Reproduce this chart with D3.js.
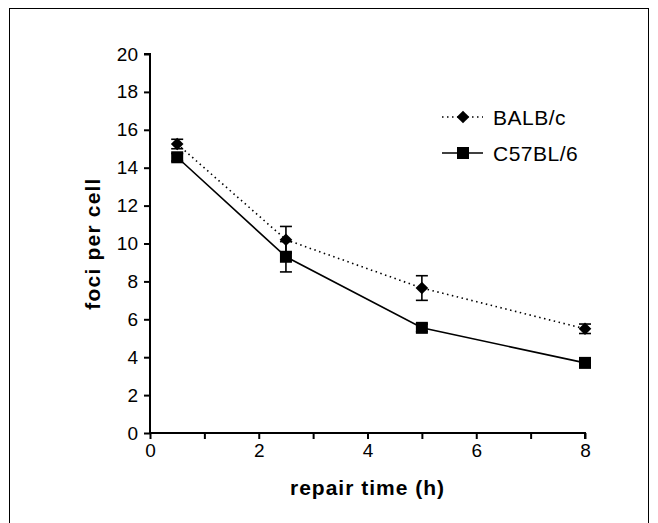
<!DOCTYPE html>
<html>
<head>
<meta charset="utf-8">
<script src="https://cdn.jsdelivr.net/npm/d3@7"></script>
<style>
  body { margin: 0; background: #fff; }
  svg { display: block; font-family: "Liberation Sans", Arial, sans-serif; }
</style>
</head>
<body>
<div id="chart"></div>
<script>
// repair time (h)
const times = [0.5, 2.5, 5, 8];
// foci per cell
const balbValues = [15.25, 10.2, 7.65, 5.5];
const balbErrors = [0.25, 0.7, 0.65, 0.25];
const c57Values = [14.55, 9.3, 5.55, 3.7];
const c57Errors = [0.2, 0.8, 0.2, 0.15];
const xTicks = [0, 1, 2, 3, 4, 5, 6, 7, 8];
const xLabels = [0, 2, 4, 6, 8];
const yTicks = [0, 2, 4, 6, 8, 10, 12, 14, 16, 18, 20];

// diamond = square turned 45deg
const diamond = {
  draw(ctx, size) {
    const r = Math.sqrt(size / 2);
    ctx.moveTo(0, -r); ctx.lineTo(r, 0); ctx.lineTo(0, r); ctx.lineTo(-r, 0); ctx.closePath();
  }
};

const seriesList = [
  { name: "BALB/c", values: balbValues, errors: balbErrors, symbol: diamond, size: 80, dash: "1.5,3.5" },
  { name: "C57BL/6", values: c57Values, errors: c57Errors, symbol: d3.symbolSquare, size: 144, dash: null }
];

const W = 658, H = 523;
const margin = { top: 54, right: 73, bottom: 90, left: 150 };
const width = W - margin.left - margin.right;
const height = H - margin.top - margin.bottom;

const svg = d3.select("#chart").append("svg")
  .attr("width", W)
  .attr("height", H);

// outer frame
svg.append("rect")
  .attr("x", 9.5).attr("y", 8.5)
  .attr("width", 639).attr("height", 530)
  .attr("fill", "none")
  .attr("stroke", "#000")
  .attr("stroke-width", 1);

const g = svg.append("g")
  .attr("transform", `translate(${margin.left},${margin.top})`);

const x = d3.scaleLinear().domain([0, 8]).range([0, width]);
const y = d3.scaleLinear().domain([0, 20]).range([height, 0]);

// x axis
const xAxis = g.append("g")
  .attr("transform", `translate(0,${height})`)
  .call(d3.axisBottom(x).tickValues(xTicks).tickSize(6).tickPadding(5)
    .tickFormat(d => xLabels.includes(d) ? d : ""));
xAxis.select(".domain").attr("stroke-width", 2).attr("d", `M0,0H${width}V6`);
xAxis.selectAll("line").attr("stroke-width", 2);
xAxis.selectAll("text").style("font-size", "19px").attr("fill", "#000");

// y axis
const yAxis = g.append("g")
  .call(d3.axisLeft(y).tickValues(yTicks).tickSize(6).tickPadding(6));
yAxis.select(".domain").attr("stroke-width", 2).attr("d", `M-6,0H0V${height}`);
yAxis.selectAll("line").attr("stroke-width", 2);
yAxis.selectAll("text").style("font-size", "19px").attr("fill", "#000");

// axis titles
g.append("text")
  .attr("x", width / 2)
  .attr("y", height + 62)
  .attr("text-anchor", "middle")
  .style("font-size", "21px")
  .style("font-weight", "bold")
  .style("letter-spacing", "1px")
  .text("repair time (h)");

g.append("text")
  .attr("transform", `translate(-50,${height / 2}) rotate(-90)`)
  .attr("text-anchor", "middle")
  .style("font-size", "21px")
  .style("font-weight", "bold")
  .style("letter-spacing", "1.2px")
  .text("foci per cell");

const line = d3.line()
  .x((d, i) => x(times[i]))
  .y(d => y(d));

seriesList.forEach(s => {
  g.append("path")
    .datum(s.values)
    .attr("fill", "none")
    .attr("stroke", "#000")
    .attr("stroke-width", 1.6)
    .attr("stroke-dasharray", s.dash)
    .attr("d", line);

  const eb = g.append("g");
  s.values.forEach((v, i) => {
    const cx = x(times[i]);
    const lo = y(v - s.errors[i]), hi = y(v + s.errors[i]);
    eb.append("line").attr("x1", cx).attr("x2", cx).attr("y1", lo).attr("y2", hi)
      .attr("stroke", "#000").attr("stroke-width", 1.6);
    [lo, hi].forEach(yy => {
      eb.append("line").attr("x1", cx - 6).attr("x2", cx + 6).attr("y1", yy).attr("y2", yy)
        .attr("stroke", "#000").attr("stroke-width", 1.6);
    });
  });

  g.selectAll(null)
    .data(s.values)
    .join("path")
      .attr("transform", (d, i) => `translate(${x(times[i])},${y(d)})`)
      .attr("d", d3.symbol().type(s.symbol).size(s.size))
      .attr("fill", "#000");
});

// legend
const legend = svg.append("g").attr("transform", "translate(442,0)");
seriesList.forEach((s, i) => {
  const ly = 117 + i * 36;
  legend.append("line")
    .attr("x1", 0).attr("x2", 41).attr("y1", ly).attr("y2", ly)
    .attr("stroke", "#000").attr("stroke-width", 1.6)
    .attr("stroke-dasharray", s.dash);
  legend.append("path")
    .attr("transform", `translate(21,${ly})`)
    .attr("d", d3.symbol().type(s.symbol).size(s.size))
    .attr("fill", "#000");
  legend.append("text")
    .attr("x", 51).attr("y", ly + 8)
    .style("font-size", "21px")
    .style("letter-spacing", "0.5px")
    .text(s.name);
});
</script>
</body>
</html>
